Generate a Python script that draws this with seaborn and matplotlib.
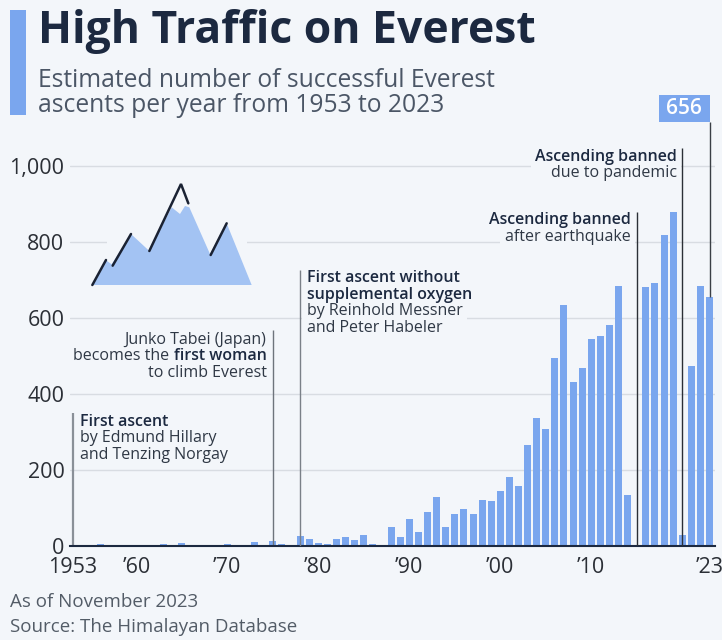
import matplotlib.pyplot as plt
import seaborn as sns
from matplotlib.patches import Rectangle, Polygon

# ascents per year
years = list(range(1953, 2024))
ascents = [2, 0, 0, 4, 0, 0, 0, 3, 0, 0,          # 1953-1962
           6, 0, 9, 0, 0, 0, 0, 4, 0, 0,          # 1963-1972
           10, 0, 14, 4, 0, 26, 19, 7, 5, 18,     # 1973-1982
           23, 15, 30, 4, 2, 50, 24, 72, 38, 90,  # 1983-1992
           129, 51, 83, 98, 85, 121, 118, 145, 182, 159,  # 1993-2002
           267, 338, 307, 495, 634, 432, 468, 544, 553, 581,  # 2003-2012
           684, 134, 0, 682, 693, 818, 878, 29, 473, 684,  # 2013-2022
           656]                                    # 2023
assert len(years) == len(ascents)

tick_years = [1953, 1960, 1970, 1980, 1990, 2000, 2010, 2023]
tick_labels = ['1953', '\u201960', '\u201970', '\u201980', '\u201990', '\u201900', '\u201910', '\u201923']
y_ticks = [0, 200, 400, 600, 800, 1000]
y_labels = ['0', '200', '400', '600', '800', '1,000']

BG = '#f3f6fa'
BAR = '#7aa6ee'
DARK = '#1c2940'
TXT = '#2f3845'

sns.set_style('white')
plt.rcParams['font.family'] = ['Open Sans', 'DejaVu Sans']

W, H = 722, 640
fig = plt.figure(figsize=(W / 100, H / 100), dpi=100, facecolor=BG)

def fx(px):
    return px / W

def fy(py):
    return 1 - py / H

ax = fig.add_axes([fx(70), fy(546), fx(715) - fx(70), fy(90) - fy(546)])
ax.set_facecolor(BG)

sns.barplot(x=years, y=ascents, native_scale=True, width=0.77, color=BAR,
            saturation=1, linewidth=0, ax=ax, zorder=2)

ax.set_xlim(1952.7, 2023.6)
ax.set_ylim(0, 1200)
ax.set_xticks(tick_years)
ax.set_xticklabels(tick_labels)
ax.set_yticks(y_ticks)
ax.set_yticklabels(y_labels)
ax.tick_params(axis='both', length=0, labelsize=15.5, labelcolor='#2b2f36')
ax.tick_params(axis='y', pad=4)
ax.tick_params(axis='x', pad=8)
ax.grid(axis='y', color='#d8dce2', lw=1, zorder=0)
ax.grid(axis='x', visible=False)
for s in ['left', 'right', 'top']:
    ax.spines[s].set_visible(False)
ax.spines['bottom'].set_color(DARK)
ax.spines['bottom'].set_linewidth(1.5)
ax.spines['bottom'].set_zorder(5)
ax.set_xlabel('')
ax.set_ylabel('')

FS = 11.5
STEP = 44  # line step in data units


def note(x, y, lines, ha='left', box=False):
    for i, (t, bold) in enumerate(lines):
        kw = dict(ha=ha, va='baseline', fontsize=FS,
                  fontweight='semibold' if bold else 'normal')
        if box:
            # background patch only, so gridlines break behind the text
            ax.text(x, y - i * STEP, t, color=(0, 0, 0, 0), zorder=5.5,
                    bbox=dict(facecolor=BG, edgecolor='none', pad=3), **kw)
        ax.text(x, y - i * STEP, t, color=DARK if bold else TXT, zorder=8, **kw)


# first ascent
ax.vlines(1953, 0, 350, color='#8a9098', lw=1.6, zorder=4)
note(1953.8, 317, [('First ascent', True), ('by Edmund Hillary', False),
                   ('and Tenzing Norgay', False)])

# Junko Tabei
ax.vlines(1975, 0, 568, color='#6e747c', lw=1, zorder=4)
note(1974.3, 531, [('Junko Tabei (Japan)', False)], ha='right')
bold_part = ax.text(1974.3, 489, 'first woman', ha='right', va='baseline',
                    fontsize=FS, fontweight='semibold', color=DARK, zorder=8)
ax.annotate('becomes the', xy=(0, 0), xycoords=bold_part, xytext=(-3.5, 0),
            textcoords='offset points', ha='right', va='bottom',
            fontsize=FS, color=TXT, zorder=8)
note(1974.3, 445, [('to climb Everest', False)], ha='right')

# Messner / Habeler
ax.vlines(1978, 0, 726, color='#7a8088', lw=1, zorder=7)
note(1978.7, 695, [('First ascent without', True), ('supplemental oxygen', True),
                   ('by Reinhold Messner', False), ('and Peter Habeler', False)],
     box=True)

# earthquake
ax.vlines(2015, 0, 879, color='#2b2f36', lw=1, zorder=7)
note(2014.3, 847, [('Ascending banned', True), ('after earthquake', False)],
     ha='right', box=True)

# pandemic
ax.vlines(2020, 0, 1047, color='#2b2f36', lw=1, zorder=7)
note(2019.4, 1014, [('Ascending banned', True), ('due to pandemic', False)],
     ha='right', box=True)

# last value label
last_x, last_v = years[-1], ascents[-1]
ax.vlines(last_x, last_v, 1116, color='#3a3f46', lw=1, zorder=7)
ax.add_patch(Rectangle((last_x - 5.6, 1116), 5.6, 71, facecolor=BAR,
                       edgecolor='none', zorder=8, clip_on=False))
ax.text(last_x - 2.8, 1151, str(last_v), ha='center', va='center', color='white',
        fontsize=15, fontweight='semibold', zorder=9)

# mountain icon
icon = fig.add_axes([fx(107), fy(290), fx(247) - fx(107), fy(180) - fy(290)])
icon.set_facecolor(BG)
icon.set_xlim(111, 531)
icon.set_ylim(360, 30)
icon.axis('off')
icon.add_patch(Rectangle((111, 30), 420, 330, facecolor=BG, edgecolor='none'))
icon.add_patch(Polygon([(67, 345), (107, 270), (125, 283), (183, 192), (238, 243),
                        (305, 112), (330, 132), (345, 108), (358, 112), (420, 252),
                        (470, 160), (545, 345)], closed=True, facecolor='#a3c3f3',
                       edgecolor='none', clip_on=False))
for seg in [[(67, 345), (108, 270)], [(128, 287), (183, 192)],
            [(238, 243), (333, 42), (355, 100)], [(422, 255), (470, 160)]]:
    xs, ys = zip(*seg)
    icon.plot(xs, ys, color='#1a2233', lw=1.8, clip_on=False,
              solid_capstyle='round', solid_joinstyle='miter')

# header
fig.patches.append(Rectangle((fx(10), fy(115)), fx(16), fy(10) - fy(115),
                             transform=fig.transFigure, facecolor=BAR,
                             edgecolor='none'))
fig.text(fx(38), fy(43), 'High Traffic on Everest', fontsize=32,
         fontweight='bold', color=DARK, va='baseline')
fig.text(fx(38), fy(87), 'Estimated number of successful Everest', fontsize=17.7,
         color='#4b5666', va='baseline')
fig.text(fx(38), fy(112), 'ascents per year from 1953 to 2023', fontsize=17.7,
         color='#4b5666', va='baseline')

# footer
fig.text(fx(10), fy(607), 'As of November 2023', fontsize=13.5, color='#535c67',
         va='baseline')
fig.text(fx(10), fy(632), 'Source: The Himalayan Database', fontsize=13.5,
         color='#535c67', va='baseline')

fig.savefig('out.png', dpi=100, facecolor=BG)
